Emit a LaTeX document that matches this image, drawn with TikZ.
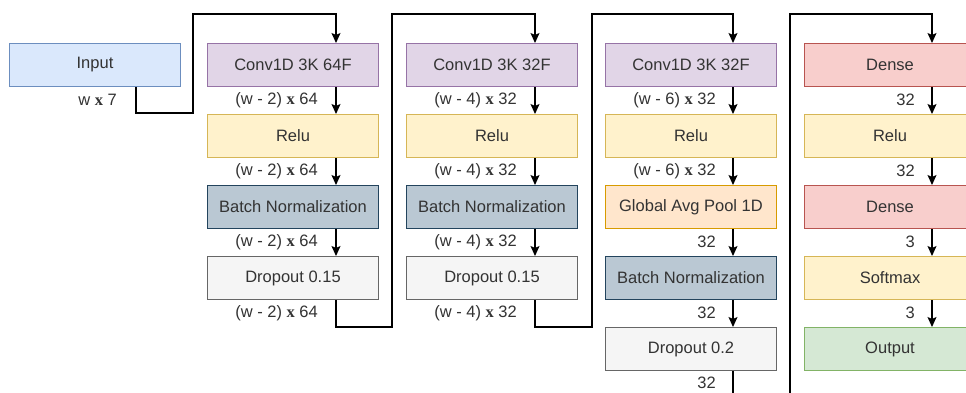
\documentclass[tikz,border=0pt]{standalone}
\usepackage{fontspec}
\setmainfont{Liberation Sans}
\newfontfamily\timesx{Liberation Serif}
\usetikzlibrary{arrows.meta}
\newcommand{\bx}{{\timesx\bfseries x}}

\definecolor{txt}{HTML}{333333}
\definecolor{inpF}{HTML}{DAE8FC}\definecolor{inpD}{HTML}{6C8EBF}
\definecolor{cnvF}{HTML}{E1D5E7}\definecolor{cnvD}{HTML}{9673A6}
\definecolor{actF}{HTML}{FFF2CC}\definecolor{actD}{HTML}{D6B656}
\definecolor{bnF}{HTML}{BAC8D3}\definecolor{bnD}{HTML}{23445D}
\definecolor{drpF}{HTML}{F5F5F5}\definecolor{drpD}{HTML}{666666}
\definecolor{gapF}{HTML}{FFE6CC}\definecolor{gapD}{HTML}{D79B00}
\definecolor{dnsF}{HTML}{F8CECC}\definecolor{dnsD}{HTML}{B85450}
\definecolor{outF}{HTML}{D5E8D4}\definecolor{outD}{HTML}{82B366}

\begin{document}
\begin{tikzpicture}[x=1pt,y=-1pt,
  layer/.style={draw, line width=1pt, minimum width=171pt, minimum height=43pt,
    anchor=north west, inner sep=0pt, text=txt,
    font=\fontsize{16.5}{20}\selectfont},
  inputbox/.style={layer, fill=inpF, draw=inpD},
  convbox/.style={layer, fill=cnvF, draw=cnvD},
  actbox/.style={layer, fill=actF, draw=actD},
  normbox/.style={layer, fill=bnF, draw=bnD},
  dropbox/.style={layer, fill=drpF, draw=drpD},
  poolbox/.style={layer, fill=gapF, draw=gapD},
  densebox/.style={layer, fill=dnsF, draw=dnsD},
  outbox/.style={layer, fill=outF, draw=outD},
  lbl/.style={anchor=east, inner sep=0pt, text=txt,
    font=\fontsize{16.5}{20}\selectfont},
  arr/.style={-{Stealth[length=10pt,width=9pt,inset=2pt]}, line width=1.2pt},
]
\useasboundingbox (0,0) rectangle (966,392);
\clip (0,0) rectangle (966,392);
\fill[white] (0,0) rectangle (966,392);

% arrow columns (three quarters across each box) and the top routing line
\coordinate (ax1) at (136,0);
\coordinate (ax2) at (336,0);
\coordinate (ax3) at (535,0);
\coordinate (ax4) at (733,0);
\coordinate (ax5) at (932,0);
\coordinate (top) at (0,14);

% column 1
\node[inputbox] (in) at (9,43) {Input};

% column 2
\node[convbox] (c2a) at (207,43)  {Conv1D 3K 64F};
\node[actbox]  (c2b) at (207,114) {Relu};
\node[normbox] (c2c) at (207,185) {Batch Normalization};
\node[dropbox] (c2d) at (207,256) {Dropout 0.15};

% column 3
\node[convbox] (c3a) at (406,43)  {Conv1D 3K 32F};
\node[actbox]  (c3b) at (406,114) {Relu};
\node[normbox] (c3c) at (406,185) {Batch Normalization};
\node[dropbox] (c3d) at (406,256) {Dropout 0.15};

% column 4
\node[convbox] (c4a) at (605,43)  {Conv1D 3K 32F};
\node[actbox]  (c4b) at (605,114) {Relu};
\node[poolbox] (c4c) at (605,185) {Global Avg Pool 1D};
\node[normbox] (c4d) at (605,256) {Batch Normalization};
\node[dropbox] (c4e) at (605,327) {Dropout 0.2};

% column 5
\node[densebox] (c5a) at (804,43)  {Dense};
\node[actbox]   (c5b) at (804,114) {Relu};
\node[densebox] (c5c) at (804,185) {Dense};
\node[actbox]   (c5d) at (804,256) {Softmax};
\node[outbox]   (c5e) at (804,327) {Output};

% bend points of the routes between columns
\coordinate (r1) at (193,113);
\coordinate (r2) at (392,327);
\coordinate (r3) at (592,327);
\coordinate (r4) at (790,400);

% routes between columns
\draw[arr] (in.south -| ax1) |- (r1) |- (ax2 |- top) -- (c2a.north -| ax2);
\draw[arr] (c2d.south -| ax2) |- (r2) |- (ax3 |- top) -- (c3a.north -| ax3);
\draw[arr] (c3d.south -| ax3) |- (r3) |- (ax4 |- top) -- (c4a.north -| ax4);
\draw[arr] (c4e.south -| ax4) |- (r4) |- (ax5 |- top) -- (c5a.north -| ax5);

% arrows within the columns
\foreach \a/\b/\x in {c2a/c2b/ax2, c2b/c2c/ax2, c2c/c2d/ax2,
                      c3a/c3b/ax3, c3b/c3c/ax3, c3c/c3d/ax3,
                      c4a/c4b/ax4, c4b/c4c/ax4, c4c/c4d/ax4, c4d/c4e/ax4,
                      c5a/c5b/ax5, c5b/c5c/ax5, c5c/c5d/ax5, c5d/c5e/ax5}
  \draw[arr] (\a.south -| \x) -- (\b.north -| \x);

% tensor shapes
\node[lbl] (s10) at (117,100) {w \bx{} 7};

\node[lbl] (s21) at (318,100) {(w - 2) \bx{} 64};
\node[lbl] (s22) at (318,171) {(w - 2) \bx{} 64};
\node[lbl] (s23) at (318,242) {(w - 2) \bx{} 64};
\node[lbl] (s24) at (318,313) {(w - 2) \bx{} 64};

\node[lbl] (s31) at (517,100) {(w - 4) \bx{} 32};
\node[lbl] (s32) at (517,171) {(w - 4) \bx{} 32};
\node[lbl] (s33) at (517,242) {(w - 4) \bx{} 32};
\node[lbl] (s34) at (517,313) {(w - 4) \bx{} 32};

\node[lbl] (s41) at (716,100) {(w - 6) \bx{} 32};
\node[lbl] (s42) at (716,171) {(w - 6) \bx{} 32};
\node[lbl] (s43) at (716,242) {32};
\node[lbl] (s44) at (716,313) {32};
\node[lbl] (s45) at (716,383) {32};

\node[lbl] (s51) at (915,100) {32};
\node[lbl] (s52) at (915,171) {32};
\node[lbl] (s53) at (915,242) {3};
\node[lbl] (s54) at (915,313) {3};
\end{tikzpicture}
\end{document}
